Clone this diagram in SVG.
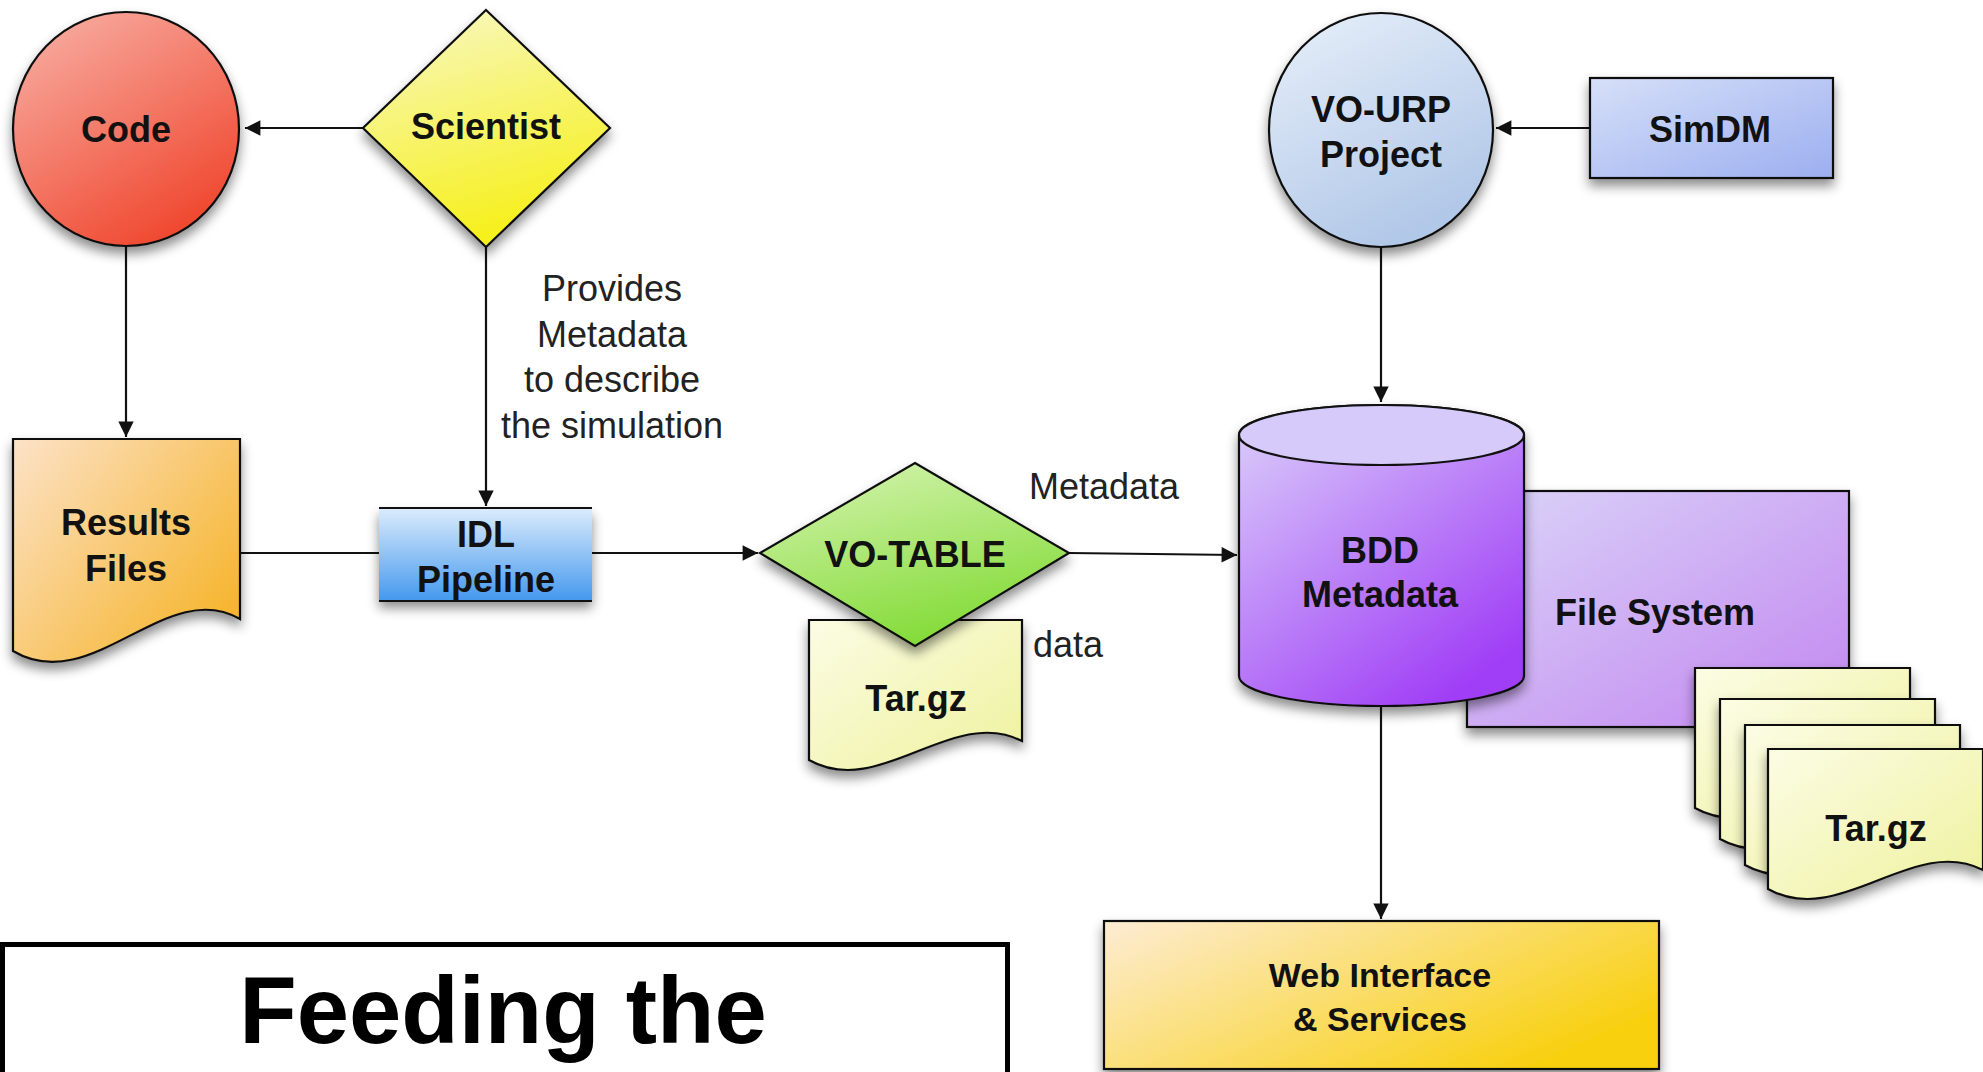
<svg xmlns="http://www.w3.org/2000/svg" width="1983" height="1072" viewBox="0 0 1983 1072">
<style>
.lbl{font-family:"Liberation Sans",Arial,Helvetica,sans-serif;font-weight:bold;font-size:36px;fill:#111;text-anchor:middle}
.note{font-family:"Liberation Sans",Arial,Helvetica,sans-serif;font-size:36px;fill:#222;text-anchor:middle}
.shape{stroke:#111;stroke-width:2.2}
.conn{stroke:#111;stroke-width:2.2;fill:none}
</style>
<defs>
<filter id="sh" x="-20%" y="-20%" width="140%" height="150%">
<feDropShadow dx="0" dy="7" stdDeviation="6" flood-color="#000" flood-opacity="0.45"/>
</filter>
<marker id="arr" viewBox="0 0 10 10" refX="10" refY="5" markerWidth="8" markerHeight="7" orient="auto" markerUnits="strokeWidth">
<path d="M0,0 L10,5 L0,10 z" fill="#111"/>
</marker>
<linearGradient id="gCode" x1="0" y1="0" x2="0.6" y2="1"><stop offset="0" stop-color="#f8b4aa"/><stop offset="1" stop-color="#f04a32"/></linearGradient>
<linearGradient id="gSci" x1="0" y1="0" x2="0.3" y2="1"><stop offset="0" stop-color="#f8f8c8"/><stop offset="1" stop-color="#f6f01e"/></linearGradient>
<linearGradient id="gRes" x1="0" y1="0" x2="1" y2="0.8"><stop offset="0" stop-color="#fce2c8"/><stop offset="1" stop-color="#f6b42a"/></linearGradient>
<linearGradient id="gIdl" x1="0" y1="0" x2="0" y2="1"><stop offset="0" stop-color="#dcecfc"/><stop offset="1" stop-color="#4498ee"/></linearGradient>
<linearGradient id="gVot" x1="0" y1="0" x2="0.4" y2="1"><stop offset="0" stop-color="#d8f4b4"/><stop offset="1" stop-color="#86dc3c"/></linearGradient>
<linearGradient id="gTar" x1="0" y1="0" x2="1" y2="1"><stop offset="0" stop-color="#fcfce4"/><stop offset="1" stop-color="#eef29c"/></linearGradient>
<linearGradient id="gUrp" x1="0" y1="0" x2="0.5" y2="1"><stop offset="0" stop-color="#e8f0fa"/><stop offset="1" stop-color="#b2c8e8"/></linearGradient>
<linearGradient id="gSim" x1="0" y1="0" x2="1" y2="1"><stop offset="0" stop-color="#d6e0f8"/><stop offset="1" stop-color="#9caef0"/></linearGradient>
<linearGradient id="gBdd" x1="0" y1="0" x2="0.7" y2="1"><stop offset="0" stop-color="#dcd2fa"/><stop offset="1" stop-color="#a03ef6"/></linearGradient>
<linearGradient id="gFs" x1="0" y1="0" x2="1" y2="1"><stop offset="0" stop-color="#dad4f8"/><stop offset="1" stop-color="#c286f0"/></linearGradient>
<linearGradient id="gWeb" x1="0" y1="0" x2="1" y2="0.6"><stop offset="0" stop-color="#fdecd4"/><stop offset="1" stop-color="#f8d010"/></linearGradient>
</defs>

<g id="connectors">
<line class="conn" x1="363" y1="128" x2="245" y2="128" marker-end="url(#arr)"/>
<line class="conn" x1="126" y1="247" x2="126" y2="437" marker-end="url(#arr)"/>
<line class="conn" x1="486" y1="247" x2="486" y2="506" marker-end="url(#arr)"/>
<line class="conn" x1="240" y1="553" x2="379" y2="553"/>
<line class="conn" x1="592" y1="553" x2="758" y2="553" marker-end="url(#arr)"/>
<line class="conn" x1="1069" y1="553" x2="1237" y2="555" marker-end="url(#arr)"/>
<line class="conn" x1="1590" y1="128" x2="1496" y2="128" marker-end="url(#arr)"/>
<line class="conn" x1="1381" y1="248" x2="1381" y2="402" marker-end="url(#arr)"/>
<line class="conn" x1="1381" y1="706" x2="1381" y2="919" marker-end="url(#arr)"/>
</g>

<g id="code">
<ellipse class="shape" cx="126" cy="129" rx="113" ry="117" fill="url(#gCode)" filter="url(#sh)"/>
<text class="lbl" x="126" y="142">Code</text>
</g>

<g id="scientist">
<path class="shape" d="M486,10 L610,128 L486,247 L363,128 Z" fill="url(#gSci)" filter="url(#sh)"/>
<text class="lbl" x="486" y="139">Scientist</text>
</g>

<g id="provides-label">
<text class="note" x="612" y="301">Provides</text>
<text class="note" x="612" y="347">Metadata</text>
<text class="note" x="612" y="392">to describe</text>
<text class="note" x="612" y="438">the simulation</text>
</g>

<g id="results-files">
<path class="shape" d="M13,439 H240 V619 C166,576 92,698 13,651 Z" fill="url(#gRes)" filter="url(#sh)"/>
<text class="lbl" x="126" y="535">Results</text>
<text class="lbl" x="126" y="581">Files</text>
</g>

<g id="idl-pipeline">
<rect x="379" y="508" width="213" height="93" fill="url(#gIdl)" filter="url(#sh)"/>
<line class="conn" x1="379" y1="508" x2="592" y2="508"/>
<line class="conn" x1="379" y1="601" x2="592" y2="601"/>
<text class="lbl" x="486" y="547">IDL</text>
<text class="lbl" x="486" y="592">Pipeline</text>
</g>

<g id="targz-1">
<path class="shape" d="M809,620 H1022 V741 C952,705 880,800 809,760 Z" fill="url(#gTar)" filter="url(#sh)"/>
<text class="lbl" x="916" y="711">Tar.gz</text>
</g>

<g id="vo-table">
<path class="shape" d="M915,463 L1069,553 L915,646 L760,553 Z" fill="url(#gVot)" filter="url(#sh)"/>
<text class="lbl" x="915" y="567">VO-TABLE</text>
</g>

<g id="edge-labels">
<text class="note" x="1104" y="499">Metadata</text>
<text class="note" x="1033" y="657" style="text-anchor:start">data</text>
</g>

<g id="vo-urp">
<ellipse class="shape" cx="1381" cy="130" rx="112" ry="117" fill="url(#gUrp)" filter="url(#sh)"/>
<text class="lbl" x="1381" y="122">VO-URP</text>
<text class="lbl" x="1381" y="167">Project</text>
</g>

<g id="simdm">
<rect class="shape" x="1590" y="78" width="243" height="100" fill="url(#gSim)" filter="url(#sh)"/>
<text class="lbl" x="1710" y="142">SimDM</text>
</g>

<g id="file-system">
<rect class="shape" x="1467" y="491" width="382" height="236" fill="url(#gFs)" filter="url(#sh)"/>
<text class="lbl" x="1655" y="625">File System</text>
</g>

<g id="bdd-metadata">
<path class="shape" d="M1239,435 A142.5,30 0 0 1 1524,435 V676 A142.5,30 0 0 1 1239,676 Z" fill="url(#gBdd)" filter="url(#sh)"/>
<ellipse class="shape" cx="1381.5" cy="435" rx="142.5" ry="30" fill="#d6cafa"/>
<text class="lbl" x="1380" y="563">BDD</text>
<text class="lbl" x="1380" y="607">Metadata</text>
</g>

<g id="targz-stack">
<path class="shape" d="M1695,668 H1910 V789 C1840,753 1767,848 1695,808 Z" fill="url(#gTar)" filter="url(#sh)"/>
<path class="shape" d="M1720,699 H1935 V820 C1865,784 1792,879 1720,839 Z" fill="url(#gTar)" filter="url(#sh)"/>
<path class="shape" d="M1745,725 H1960 V846 C1890,810 1817,905 1745,865 Z" fill="url(#gTar)" filter="url(#sh)"/>
<path class="shape" d="M1768,749 H1983 V870 C1913,834 1840,929 1768,889 Z" fill="url(#gTar)" filter="url(#sh)"/>
<text class="lbl" x="1876" y="841">Tar.gz</text>
</g>

<g id="web-interface">
<rect class="shape" x="1104" y="921" width="555" height="148" fill="url(#gWeb)" filter="url(#sh)"/>
<text class="lbl" x="1380" y="987" style="font-size:34px">Web Interface</text>
<text class="lbl" x="1380" y="1031" style="font-size:34px">&amp; Services</text>
</g>

<g id="title-box">
<rect x="2.5" y="944.5" width="1005" height="200" fill="#fff" stroke="#000" stroke-width="5"/>
<text x="503" y="1043" style="font-family:'Liberation Sans',Arial,Helvetica,sans-serif;font-weight:bold;font-size:94px;fill:#000;text-anchor:middle">Feeding the</text>
</g>
</svg>
